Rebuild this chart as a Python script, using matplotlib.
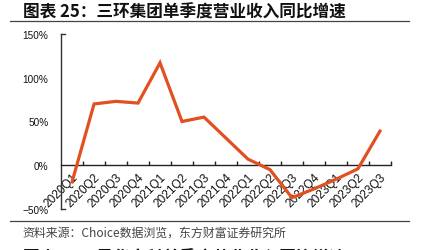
import matplotlib.pyplot as plt
from matplotlib.ticker import FixedLocator, FuncFormatter

plt.rcParams['font.family'] = ['Liberation Sans', 'Noto Sans CJK SC', 'DejaVu Sans']

# 季度
quarters = ['2020Q1', '2020Q2', '2020Q3', '2020Q4', '2021Q1', '2021Q2', '2021Q3', '2021Q4',
            '2022Q1', '2022Q2', '2022Q3', '2022Q4', '2023Q1', '2023Q2', '2023Q3']
# 单季度营业收入同比增速 (%)
yoy = [-19, 70, 73, 71, 117, 50, 55, 31, 7, -5, -37, -27, -16, -4, 39]

yticks = [-50, 0, 50, 100, 150]

fig = plt.figure(figsize=(4.24, 2.51), dpi=100)
ax = fig.add_axes([0.144, 0.163, 0.778, 0.698])

x = list(range(len(quarters)))
ax.plot(x, yoy, color='#E2501F', lw=2.3, solid_joinstyle='miter', zorder=3)

ax.set_xlim(-0.5, len(quarters) - 0.5)
ax.set_ylim(-50, 150)

for s in ['top', 'right']:
    ax.spines[s].set_visible(False)
ax.spines['bottom'].set_position(('data', 0))
ax.spines['left'].set_color('#333333')
ax.spines['bottom'].set_color('#222222')
ax.spines['left'].set_linewidth(1.0)
ax.spines['bottom'].set_linewidth(1.0)

ax.set_yticks(yticks)
ax.yaxis.set_major_formatter(FuncFormatter(lambda v, p: f'{v:.0f}%'.replace('-', '\u2212')))
ax.tick_params(axis='y', length=0, pad=9, labelsize=7.2, colors='#111111')

# 坐标轴端点短横
for yv in [0, 1]:
    ax.plot([0, 0.012], [yv, yv], transform=ax.transAxes, color='#333333', lw=1.0, clip_on=False)

ax.set_xticks(x)
ax.set_xticklabels(quarters, rotation=45, ha='right', va='top', rotation_mode='anchor')
ax.tick_params(axis='x', which='major', length=0, pad=4, labelsize=8.6, colors='#111111')
ax.xaxis.set_minor_locator(FixedLocator([i + 0.5 for i in x]))
ax.tick_params(axis='x', which='minor', direction='in', length=3, width=1, color='#222222')

fig.text(0.054, 0.952, '图表 25：三环集团单季度营业收入同比增速', fontsize=12, fontweight='bold',
         family=['Noto Sans CJK SC'], va='center', ha='left', color='#111111')
fig.add_artist(plt.Line2D([0.024, 0.965], [0.912, 0.912], color='#444444', lw=0.9))
fig.add_artist(plt.Line2D([0.024, 0.965], [0.116, 0.116], color='#444444', lw=0.9))
fig.text(0.052, 0.072, '资料来源：Choice数据浏览，东方财富证券研究所', fontsize=8.6,
         family=['Noto Sans CJK SC'], va='center', ha='left', color='#444444')
fig.text(0.054, 0.005, '图表 27：风华高科单季度营业收入同比增速', fontsize=12, fontweight='bold',
         family=['Noto Sans CJK SC'], va='top', ha='left', color='#111111')

fig.savefig('out.png', dpi=100)
